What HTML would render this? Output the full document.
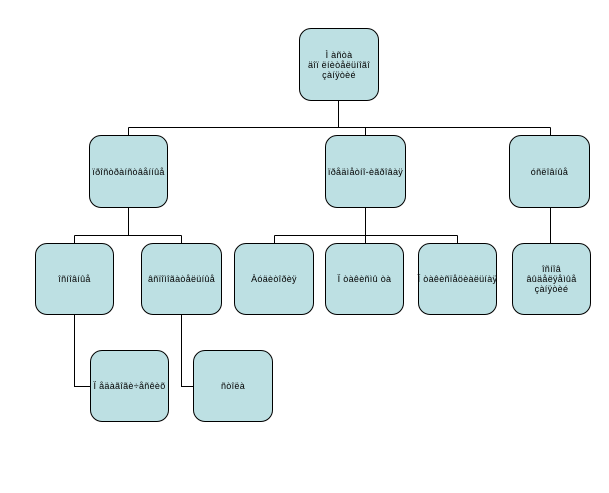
<!DOCTYPE html>
<html><head><meta charset="utf-8"><style>
body{margin:0;background:#fff;width:609px;height:493px;overflow:hidden;position:relative;font-family:"Liberation Sans",sans-serif}
.b{position:absolute;background:#bde0e3;border:1px solid #000;border-radius:12px;display:flex;align-items:center;justify-content:center;text-align:center;font-size:9px;line-height:10px;color:#000;box-sizing:border-box;letter-spacing:0.3px;white-space:nowrap}
svg{position:absolute;left:0;top:0}
</style></head><body>
<svg width="609" height="493"><g stroke="#000" stroke-width="1" fill="none">
<path d="M338.5 100V127.5M128.5 127.5H550.5M128.5 127.5V135M365.5 127.5V135M550.5 127.5V135"/>
<path d="M128.5 207V235.5M74.5 235.5H181.5M74.5 235.5V243M181.5 235.5V243"/>
<path d="M365.5 207V235.5M274.5 235.5H457.5M274.5 235.5V243M365.5 235.5V243M457.5 235.5V243"/>
<path d="M550.5 207V243"/>
<path d="M74.5 314V386.5H90M181.5 314V386.5H193"/>
</g></svg>
<div class="b" style="left:299px;top:28px;width:80px;height:73px">Ì àñòà<br>äîï ëíèòåëüíîãî<br>çàíÿòèé</div>
<div class="b" style="left:89px;top:135px;width:79px;height:73px">ïðîñòðàíñòâåííûå</div>
<div class="b" style="left:325px;top:135px;width:81px;height:73px">ïðåäìåòíî-èãðîâàÿ</div>
<div class="b" style="left:509px;top:135px;width:81px;height:73px">óñëîâíûå</div>
<div class="b" style="left:35px;top:243px;width:79px;height:72px">îñíîâíûå</div>
<div class="b" style="left:141px;top:243px;width:81px;height:72px">âñïîìîãàòåëüíûå</div>
<div class="b" style="left:234px;top:243px;width:80px;height:72px">Àóäèòîðèÿ</div>
<div class="b" style="left:325px;top:243px;width:79px;height:72px">Ï òàêèñìû òà</div>
<div class="b" style="left:418px;top:243px;width:79px;height:72px">Ï òàêèñïåöèàëüíàÿ</div>
<div class="b" style="left:512px;top:243px;width:79px;height:72px">îñíîâ<br>âûäåëÿåìûå<br>çàíÿòèé</div>
<div class="b" style="left:90px;top:350px;width:79px;height:72px">Ï åäàãîãè÷åñêèõ</div>
<div class="b" style="left:193px;top:350px;width:80px;height:72px">ñòîëà</div>
</body></html>
